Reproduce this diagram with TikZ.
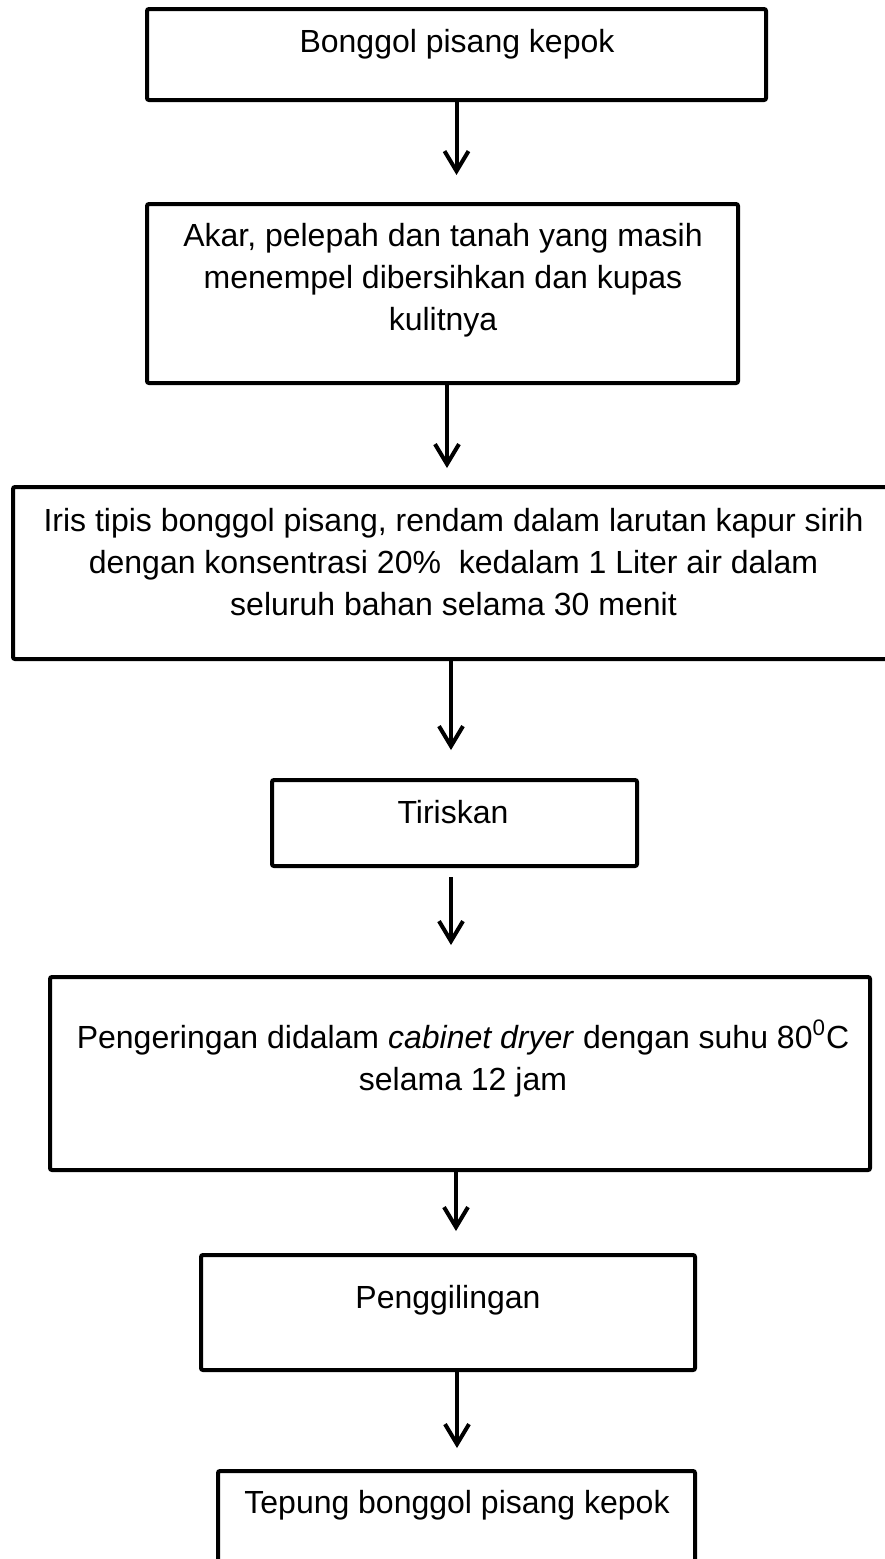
\documentclass[tikz,border=0pt]{standalone}
\usepackage{fontspec}
\setmainfont{Liberation Sans}
\usetikzlibrary{arrows.meta,positioning}

\begin{document}
\begin{tikzpicture}[
  x=0.5pt, y=-0.5pt,
  font=\fontsize{16pt}{21pt}\selectfont,
  >={Straight Barb[length=10pt,width=12pt,line width=2pt]},
  stepbox/.style={draw=black, line width=2pt, rounded corners=1pt, inner sep=0pt},
  steptext/.style={anchor=base, align=center, inner sep=0pt},
  flow/.style={->, draw=black, line width=2pt}
]
  \useasboundingbox (0,0) rectangle (884,1559);

  % kotak proses
  \node[stepbox, minimum width=309.5pt, minimum height=45.5pt] (b1) at (456.5,54.5) {};
  \node[stepbox, minimum width=295.5pt, minimum height=89.5pt] (b2) at (442.5,293.5) {};
  \node[stepbox, minimum width=441pt, minimum height=86pt] (b3) at (454,573) {};
  \node[stepbox, minimum width=182.5pt, minimum height=43pt] (b4) at (454.5,823) {};
  \node[stepbox, minimum width=410pt, minimum height=96.5pt] (b5) at (460,1073.5) {};
  \node[stepbox, minimum width=247pt, minimum height=57.5pt] (b6) at (448,1312.5) {};
  \node[stepbox, minimum width=238.5pt, minimum height=54.5pt] (b7) at (456.5,1525.5) {};

  % teks (base = baris terakhir)
  \node[steptext] (t1) at (457,52) {Bonggol pisang kepok};
  \node[steptext] (t2) at (443,330) {Akar, pelepah dan tanah yang masih\\ menempel dibersihkan dan kupas\\ kulitnya};
  \node[steptext] (t3) at (453.5,615) {Iris tipis bonggol pisang, rendam dalam larutan kapur sirih\\ dengan konsentrasi 20\%~ kedalam 1 Liter air dalam\\ seluruh bahan selama 30 menit};
  \node[steptext] (t4) at (453,823) {Tiriskan};
  \node[steptext] (t5) at (463,1090) {Pengeringan didalam \textit{cabinet dryer} dengan suhu 80\textsuperscript{0}C\\ selama 12 jam};
  \node[steptext] (t6) at (448,1308) {Penggilingan};
  \node[steptext] (t7) at (457,1513) {Tepung bonggol pisang kepok};

  % panah
  \draw[flow, shorten >=13.5pt] (b1.south) -- (b1.south |- b2.north);
  \draw[flow, shorten >=8.5pt] ([xshift=2.25pt]b2.south) -- ([xshift=2.25pt]b2.south |- b3.north);
  \draw[flow, shorten >=14pt] ([xshift=-1.5pt]b3.south) -- ([xshift=-1.5pt]b3.south |- b4.north);
  \draw[flow, shorten <=4.5pt, shorten >=15pt] ([xshift=-1.75pt]b4.south) -- ([xshift=-1.75pt]b4.south |- b5.north);
  \draw[flow, shorten >=11pt] ([xshift=4pt]b6.north |- b5.south) -- ([xshift=4pt]b6.north);
  \draw[flow, shorten >=10.5pt] ([xshift=4.5pt]b6.south) -- ([xshift=4.5pt]b6.south |- b7.north);
\end{tikzpicture}
\end{document}
